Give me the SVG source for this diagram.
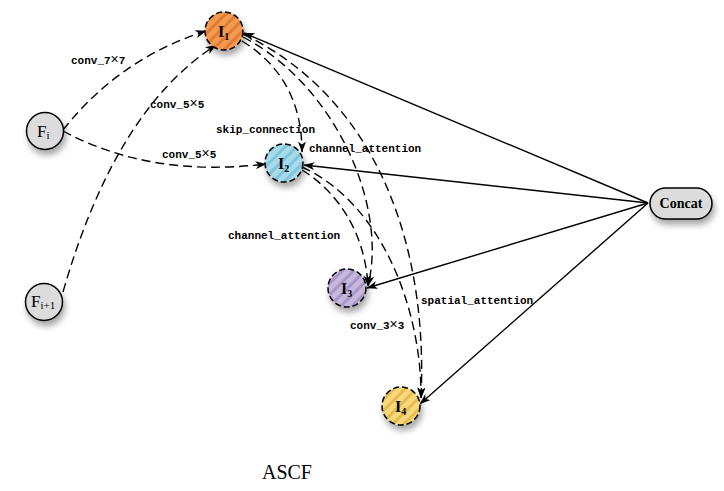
<svg xmlns="http://www.w3.org/2000/svg" width="724" height="491" viewBox="0 0 724 491">
<style>
.lbl{font-family:"Liberation Mono",monospace;font-size:11px;font-weight:bold;fill:#000}
.x{font-family:"Liberation Sans",sans-serif;font-size:14px;font-weight:normal}
.dash{fill:none;stroke:#000;stroke-width:1.4;stroke-dasharray:9 5}
.solid{fill:none;stroke:#000;stroke-width:1.4}
.fnode{fill:#dcdcdc;stroke:#000;stroke-width:1.5}
.inode{stroke:#000;stroke-width:1.5;stroke-dasharray:6 3}
.nt{font-family:"Liberation Serif",serif;fill:#000}
</style>
<defs>
<filter id="sh" x="-50%" y="-50%" width="200%" height="220%">
<feDropShadow dx="2" dy="5" stdDeviation="3" flood-color="#000" flood-opacity="0.35"/>
</filter>
<marker id="ar" viewBox="0 0 11 8" refX="10.5" refY="4" markerWidth="11" markerHeight="8" markerUnits="userSpaceOnUse" orient="auto">
<path d="M0,0 L11,4 L0,8 L3,4 z" fill="#000"/>
</marker>
<pattern id="pO" width="8" height="8" patternUnits="userSpaceOnUse" patternTransform="rotate(-45)">
<rect width="8" height="8" fill="#f39a50"/><rect width="8" height="3" fill="#e07c34"/>
</pattern>
<pattern id="pB" width="8" height="8" patternUnits="userSpaceOnUse" patternTransform="rotate(-45)">
<rect width="8" height="8" fill="#a8dae9"/><rect width="8" height="3" fill="#7ec4dc"/>
</pattern>
<pattern id="pP" width="8" height="8" patternUnits="userSpaceOnUse" patternTransform="rotate(-45)">
<rect width="8" height="8" fill="#c6b8db"/><rect width="8" height="3" fill="#a895c9"/>
</pattern>
<pattern id="pY" width="8" height="8" patternUnits="userSpaceOnUse" patternTransform="rotate(-45)">
<rect width="8" height="8" fill="#f8d87e"/><rect width="8" height="3" fill="#e6bc4c"/>
</pattern>
</defs>
<rect width="724" height="491" fill="#fff"/>

<g id="connectors">
<path class="solid" d="M648,203 L244,33" marker-end="url(#ar)"/>
<path class="solid" d="M648,203 L304,165" marker-end="url(#ar)"/>
<path class="solid" d="M648,203 L367,288" marker-end="url(#ar)"/>
<path class="solid" d="M648,203 L420,404" marker-end="url(#ar)"/>
<path class="dash" d="M63,130 Q120,58 206,31" marker-end="url(#ar)"/>
<path class="dash" d="M63,292 Q115,110 216,45" marker-end="url(#ar)"/>
<path class="dash" d="M63,131 Q150,178 266,164" marker-end="url(#ar)"/>
<path class="dash" d="M242,41 Q302,78 302,152" marker-end="url(#ar)"/>
<path class="dash" d="M243,37 C335,85 388,205 368,286" marker-end="url(#ar)"/>
<path class="dash" d="M243,34 C380,100 428,250 421,398" marker-end="url(#ar)"/>
<path class="dash" d="M302,170 C335,190 365,230 368,286" marker-end="url(#ar)"/>
<path class="dash" d="M302,167 C385,205 422,315 421,398" marker-end="url(#ar)"/>
</g>

<g id="labels">
<text class="lbl" x="71" y="64">conv_7<tspan class="x">×</tspan>7</text>
<text class="lbl" x="150" y="108">conv_5<tspan class="x">×</tspan>5</text>
<text class="lbl" x="162" y="158">conv_5<tspan class="x">×</tspan>5</text>
<text class="lbl" x="216" y="133">skip_connection</text>
<text class="lbl" x="309" y="152">channel_attention</text>
<text class="lbl" x="228" y="239">channel_attention</text>
<text class="lbl" x="421" y="304">spatial_attention</text>
<text class="lbl" x="350" y="329">conv_3<tspan class="x">×</tspan>3</text>
</g>

<g id="node-Fi">
<circle class="fnode" cx="45" cy="131" r="18.5" filter="url(#sh)"/>
<text class="nt" x="37" y="137" font-size="17">F<tspan font-size="11" dy="2">i</tspan></text>
</g>
<g id="node-Fi1">
<circle class="fnode" cx="44" cy="302" r="18.5" filter="url(#sh)"/>
<text class="nt" x="31" y="307" font-size="17">F<tspan font-size="11" dy="2">i+1</tspan></text>
</g>
<g id="node-I1">
<circle class="inode" cx="224" cy="31" r="19" fill="url(#pO)" filter="url(#sh)"/>
<text class="nt" x="218" y="37" font-size="16" font-weight="bold">I<tspan font-size="10" dy="3">1</tspan></text>
</g>
<g id="node-I2">
<circle class="inode" cx="284" cy="163" r="19" fill="url(#pB)" filter="url(#sh)"/>
<text class="nt" x="278" y="169" font-size="16" font-weight="bold">I<tspan font-size="10" dy="3">2</tspan></text>
</g>
<g id="node-I3">
<circle class="inode" cx="347" cy="288" r="19" fill="url(#pP)" filter="url(#sh)"/>
<text class="nt" x="341" y="294" font-size="16" font-weight="bold">I<tspan font-size="10" dy="3">3</tspan></text>
</g>
<g id="node-I4">
<circle class="inode" cx="401" cy="406" r="19" fill="url(#pY)" filter="url(#sh)"/>
<text class="nt" x="395" y="412" font-size="16" font-weight="bold">I<tspan font-size="10" dy="3">4</tspan></text>
</g>
<g id="node-Concat">
<rect x="650" y="188" width="62" height="31" rx="15.5" fill="#dcdcdc" stroke="#000" stroke-width="1.5" filter="url(#sh)"/>
<text class="nt" x="681" y="208" font-size="14" font-weight="bold" text-anchor="middle">Concat</text>
</g>
<text class="nt" x="262" y="479" font-size="22" textLength="50" lengthAdjust="spacingAndGlyphs">ASCF</text>
</svg>
